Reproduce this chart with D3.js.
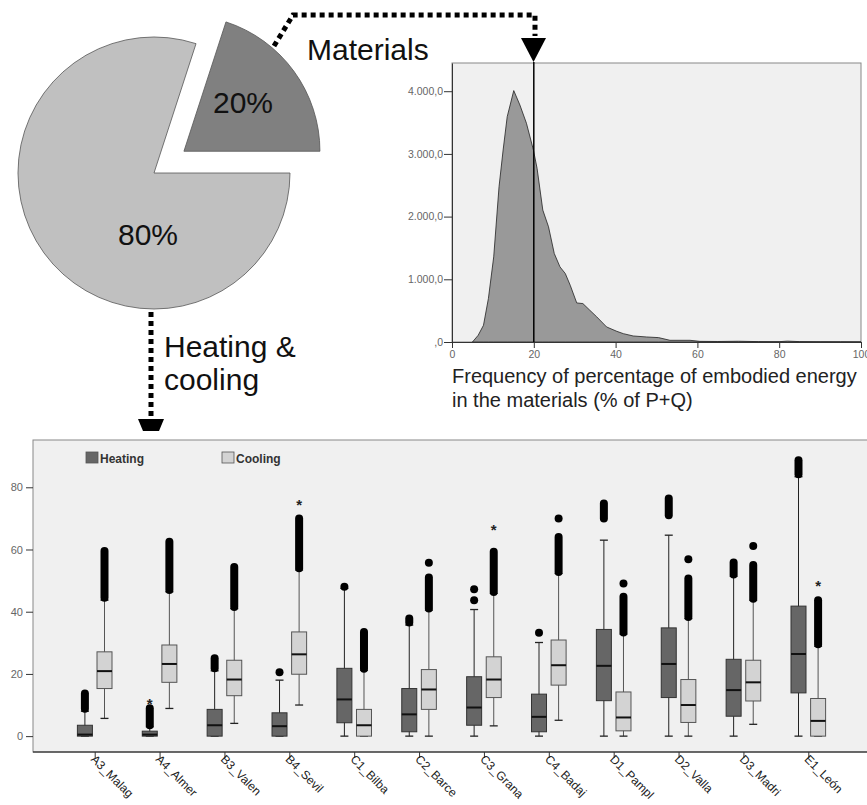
<!DOCTYPE html>
<html>
<head>
<meta charset="utf-8">
<script src="https://cdn.jsdelivr.net/npm/d3@7"></script>
<style>
  body { margin: 0; background: #fff; }
  text { font-family: "Liberation Sans", Arial, sans-serif; }
</style>
</head>
<body>
<script>
// pie: share of energy
var pieLabels = ['Heating & cooling', 'Materials'];
var pieValues = [80, 20];

// histogram of % embodied energy in materials
var histX = [5, 6.4, 7.7, 8.9, 10.2, 11.5, 12.5, 13.5, 15.1, 16.6, 18.2, 19.9, 20.8, 22.2, 23.6, 25, 26.4, 27.7, 28.9, 30.5, 32, 33.7, 35.4, 37.8, 40.3, 41.9, 44.3, 47.6, 50.5, 53.3, 58.2, 60.6, 65, 70, 75, 80, 82, 85, 90, 95, 100];
var histY = [0, 107, 267, 693, 1358, 2476, 3063, 3594, 4010, 3780, 3489, 3063, 2770, 2104, 1837, 1412, 1198, 1092, 906, 623, 613, 506, 400, 240, 170, 133, 96, 80, 70, 27, 27, 10, 8, 12, 6, 5, 14, 6, 4, 3, 2];
var histXTicks = [0, 20, 40, 60, 80, 100];
var histYTicks = [0, 1000, 2000, 3000, 4000];
var histMarker = 20;

// box plots by climate zone: [low whisker, q1, median, q3, high whisker]
var cities = ['A3_Malag', 'A4_Almer', 'B3_Valen', 'B4_Sevil', 'C1_Bilba', 'C2_Barce', 'C3_Grana', 'C4_Badaj', 'D1_Pampl', 'D2_Valla', 'D3_Madri', 'E1_León'];
var heatingBoxes = [
  [0, 0, 0.5, 3.5, 8], [0, 0, 0.5, 1.6, 3], [0, 0, 3.5, 8.6, 21], [0, 0, 3.2, 7.5, 18],
  [0, 4.3, 11.8, 21.8, 47.5], [0, 1.4, 7, 15.3, 35.7], [0, 3.5, 9.2, 19.1, 40.7], [0, 1.4, 6.2, 13.5, 30.1],
  [0, 11.4, 22.6, 34.3, 63], [0, 12.4, 23.2, 34.8, 64.6], [0, 6.4, 14.8, 24.7, 51.4], [0, 13.9, 26.4, 41.8, 83.4]
];
var coolingBoxes = [
  [5.7, 15.3, 20.9, 27.1, 43.7], [8.9, 17.3, 23.2, 29.3, 46.4], [4.1, 13, 18.2, 24.4, 41], [10, 19.9, 26.3, 33.5, 53.4],
  [0, 0, 3.5, 8.6, 21.2], [0, 8.6, 15, 21.4, 40.5], [3.3, 12.4, 18.2, 25.5, 45.9], [5.1, 16.4, 22.8, 30.9, 52.3],
  [0, 1.7, 6, 14.2, 32.8], [0, 4.4, 10, 18.2, 37.8], [3.8, 11.3, 17.3, 24.4, 43.7], [0, 0, 4.9, 12.1, 28.9]
];
// outliers: [from, to] runs of dots
var heatingOutliers = [
  [[8.8, 13.7]], [[3.5, 9]], [[21.8, 25]], [[20.5, 20.5]],
  [[48, 48]], [[36.5, 37.8]], [[43.7, 43.7], [47.2, 47.2]], [[33.2, 33.2]],
  [[70, 74.8]], [[71, 76.4]], [[52, 55.8]], [[84.2, 88.7]]
];
var coolingOutliers = [
  [[44.5, 59.5]], [[47, 62.5]], [[41.5, 54.4]], [[54, 70]],
  [[21.7, 33.5]], [[41, 51], [55.7, 55.7]], [[46.3, 59.3]], [[52.8, 64], [70, 70]],
  [[33.3, 44.8], [49.1, 49.1]], [[38.3, 50.7], [56.9, 56.9]], [[44.2, 55], [61.1, 61.1]], [[29.5, 43.7]]
];
// extremes (*)
var heatingExtremes = [[], [11], [], [], [], [], [], [], [], [], [], []];
var coolingExtremes = [[], [], [], [75], [], [], [67], [], [], [], [], [49]];
var boxYTicks = [0, 20, 40, 60, 80];
var seriesNames = ['Heating', 'Cooling'];

var svg = d3.select('body').append('svg')
    .attr('width', 867)
    .attr('height', 805);

// ---------- pie ----------
var pie = d3.pie().sort(null).startAngle(Math.PI / 2).endAngle(Math.PI / 2 + 2 * Math.PI);
var arc = d3.arc().innerRadius(0).outerRadius(136);
var pieG = svg.append('g').attr('transform', 'translate(154,173)');
var slices = pie(pieValues);
var pieFill = ['#c0c0c0', '#808080'];
var explode = [0, 37];

pieG.selectAll('path').data(slices).enter().append('path')
    .attr('d', arc)
    .attr('transform', function(d, i) {
        var a = (d.startAngle + d.endAngle) / 2;
        return 'translate(' + (Math.sin(a) * explode[i]) + ',' + (-Math.cos(a) * explode[i]) + ')';
    })
    .attr('fill', function(d, i) { return pieFill[i]; })
    .attr('stroke', '#555')
    .attr('stroke-width', 0.8);

var labelPos = [[-6, 72], [89, -60]];
pieG.selectAll('text.pct').data(slices).enter().append('text')
    .attr('class', 'pct')
    .attr('x', function(d, i) { return labelPos[i][0]; })
    .attr('y', function(d, i) { return labelPos[i][1]; })
    .attr('text-anchor', 'middle')
    .attr('font-size', 30)
    .attr('fill', '#111')
    .text(function(d) { return d.data + '%'; });

// dotted leader lines + arrows
var dotted = { stroke: '#000', 'stroke-width': 5, 'stroke-dasharray': '5,4', fill: 'none' };
svg.append('path')
    .attr('d', 'M274,46 L293,15 L535,15 L535,36')
    .attr('stroke', dotted.stroke).attr('stroke-width', dotted['stroke-width'])
    .attr('stroke-dasharray', dotted['stroke-dasharray']).attr('fill', dotted.fill);
svg.append('polygon').attr('points', '521,38 546,38 533.5,62').attr('fill', '#000');

svg.append('path')
    .attr('d', 'M151,312 L151,418')
    .attr('stroke', dotted.stroke).attr('stroke-width', dotted['stroke-width'])
    .attr('stroke-dasharray', dotted['stroke-dasharray']).attr('fill', dotted.fill);
svg.append('polygon').attr('points', '138,419 164,419 159,431 143,431').attr('fill', '#000');

svg.append('text').attr('x', 307).attr('y', 60).attr('font-size', 30).attr('fill', '#111').text(pieLabels[1]);
var hc = svg.append('text').attr('x', 164).attr('y', 357).attr('font-size', 30).attr('fill', '#111');
hc.append('tspan').attr('x', 164).text('Heating &');
hc.append('tspan').attr('x', 164).attr('dy', 33).text('cooling');

// ---------- histogram ----------
var hx = d3.scaleLinear().domain([0, 100]).range([452, 861]);
var hy = d3.scaleLinear().domain([0, 4450]).range([342, 63]);

svg.append('rect')
    .attr('x', hx(0)).attr('y', hy(4450))
    .attr('width', hx(100) - hx(0)).attr('height', hy(0) - hy(4450))
    .attr('fill', '#f0f0f0').attr('stroke', '#888').attr('stroke-width', 1);

var histPts = histX.map(function(x, i) { return [x, histY[i]]; });
svg.append('path')
    .datum(histPts)
    .attr('d', d3.area().x(function(d) { return hx(d[0]); }).y0(hy(0)).y1(function(d) { return hy(d[1]); }))
    .attr('fill', '#999')
    .attr('stroke', '#222')
    .attr('stroke-width', 0.8);

svg.append('line')
    .attr('x1', hx(histMarker)).attr('x2', hx(histMarker))
    .attr('y1', 62).attr('y2', hy(0))
    .attr('stroke', '#000').attr('stroke-width', 1.5);

var hAxisX = svg.append('g').attr('transform', 'translate(0,' + hy(0) + ')')
    .call(d3.axisBottom(hx).tickValues(histXTicks).tickSize(6).tickSizeOuter(0));
var hAxisY = svg.append('g').attr('transform', 'translate(' + hx(0) + ',0)')
    .call(d3.axisLeft(hy).tickValues(histYTicks).tickSize(8).tickSizeOuter(0)
        .tickFormat(function(d) { return d === 0 ? ',0' : d3.format(',')(d).replace(',', '.') + ',0'; }));
[hAxisX, hAxisY].forEach(function(g) {
    g.select('.domain').attr('stroke', '#333');
    g.selectAll('.tick line').attr('stroke', '#333');
    g.selectAll('.tick text').attr('fill', '#666').attr('font-size', 10.5)
        .attr('font-family', '"Liberation Sans", Arial, sans-serif');
});
hAxisY.selectAll('.tick text').attr('x', -9);

var ht = svg.append('text').attr('x', 452).attr('y', 383).attr('font-size', 20).attr('fill', '#222');
ht.append('tspan').attr('x', 452).text('Frequency of percentage of embodied energy');
ht.append('tspan').attr('x', 452).attr('dy', 24).text('in the materials (% of P+Q)');

// ---------- box plots ----------
var bx = d3.scalePoint().domain(cities).range([94.7, 808.3]);
var by = d3.scaleLinear().domain([-5.1, 95.2]).range([752, 440]);

svg.append('rect')
    .attr('x', 33).attr('y', 440)
    .attr('width', 840).attr('height', 312)
    .attr('fill', '#f0f0f0').attr('stroke', '#888');

var bAxisY = svg.append('g').attr('transform', 'translate(33,0)')
    .call(d3.axisLeft(by).tickValues(boxYTicks).tickSize(7).tickSizeOuter(0));
bAxisY.select('.domain').remove();
bAxisY.selectAll('.tick line').attr('stroke', '#333');
bAxisY.selectAll('.tick text').attr('fill', '#666').attr('font-size', 11)
    .attr('font-family', '"Liberation Sans", Arial, sans-serif');

svg.append('line').attr('x1', 33).attr('x2', 867).attr('y1', 752).attr('y2', 752)
    .attr('stroke', '#111').attr('stroke-width', 1.2);

var bAxisX = svg.append('g').attr('transform', 'translate(0,752)')
    .call(d3.axisBottom(bx).tickSize(6).tickSizeOuter(0));
bAxisX.select('.domain').remove();
bAxisX.selectAll('.tick line').attr('stroke', '#333');
bAxisX.selectAll('.tick text')
    .attr('font-size', 12).attr('fill', '#222')
    .attr('font-family', '"Liberation Sans", Arial, sans-serif')
    .attr('text-anchor', 'start')
    .attr('dy', null).attr('y', 0)
    .attr('transform', 'translate(-5,8) rotate(45)');

var series = [
    { boxes: heatingBoxes, outliers: heatingOutliers, extremes: heatingExtremes, dx: -9.8, fill: '#666666', stroke: '#333', whisker: '#222' },
    { boxes: coolingBoxes, outliers: coolingOutliers, extremes: coolingExtremes, dx: 9.8, fill: '#d3d3d3', stroke: '#555', whisker: '#555' }
];
var boxW = 15;

series.forEach(function(s) {
    var g = svg.append('g');
    var items = cities.map(function(c, i) { return { c: c, b: s.boxes[i], o: s.outliers[i], e: s.extremes[i] }; });
    var grp = g.selectAll('g').data(items).enter().append('g')
        .attr('transform', function(d) { return 'translate(' + (bx(d.c) + s.dx) + ',0)'; });

    grp.append('line')
        .attr('x1', 0).attr('x2', 0)
        .attr('y1', function(d) { return by(d.b[0]); })
        .attr('y2', function(d) { return by(d.b[4]); })
        .attr('stroke', s.whisker).attr('stroke-width', 1);
    grp.selectAll('line.cap').data(function(d) { return [d.b[0], d.b[4]]; }).enter().append('line')
        .attr('class', 'cap')
        .attr('x1', -4).attr('x2', 4)
        .attr('y1', function(v) { return by(v); })
        .attr('y2', function(v) { return by(v); })
        .attr('stroke', '#222').attr('stroke-width', 1.3);
    grp.append('rect')
        .attr('x', -boxW / 2).attr('width', boxW)
        .attr('y', function(d) { return by(d.b[3]); })
        .attr('height', function(d) { return Math.max(1, by(d.b[1]) - by(d.b[3])); })
        .attr('fill', s.fill).attr('stroke', s.stroke).attr('stroke-width', 1);
    grp.append('line')
        .attr('x1', -boxW / 2).attr('x2', boxW / 2)
        .attr('y1', function(d) { return by(d.b[2]); })
        .attr('y2', function(d) { return by(d.b[2]); })
        .attr('stroke', '#111').attr('stroke-width', 2);
    grp.selectAll('line.out').data(function(d) { return d.o; }).enter().append('line')
        .attr('class', 'out')
        .attr('x1', 0).attr('x2', 0)
        .attr('y1', function(r) { return by(r[0]); })
        .attr('y2', function(r) { return by(r[1]); })
        .attr('stroke', '#000').attr('stroke-width', 8).attr('stroke-linecap', 'round');
    grp.selectAll('text.ext').data(function(d) { return d.e; }).enter().append('text')
        .attr('class', 'ext')
        .attr('x', 0).attr('y', function(v) { return by(v) + 7; })
        .attr('text-anchor', 'middle').attr('font-size', 15).attr('font-weight', 'bold').attr('fill', '#222')
        .text('*');
});

// legend
var legendX = [86, 222];
var legendFill = ['#666666', '#d3d3d3'];
var legend = svg.selectAll('g.legend').data(seriesNames).enter().append('g')
    .attr('class', 'legend')
    .attr('transform', function(d, i) { return 'translate(' + legendX[i] + ',452)'; });
legend.append('rect')
    .attr('width', 12).attr('height', 11)
    .attr('fill', function(d, i) { return legendFill[i]; })
    .attr('stroke', '#555').attr('stroke-width', 0.8);
legend.append('text')
    .attr('x', 14).attr('y', 10.5)
    .attr('font-size', 12).attr('font-weight', 'bold').attr('fill', '#333')
    .text(function(d) { return d; });
</script>
</body>
</html>
